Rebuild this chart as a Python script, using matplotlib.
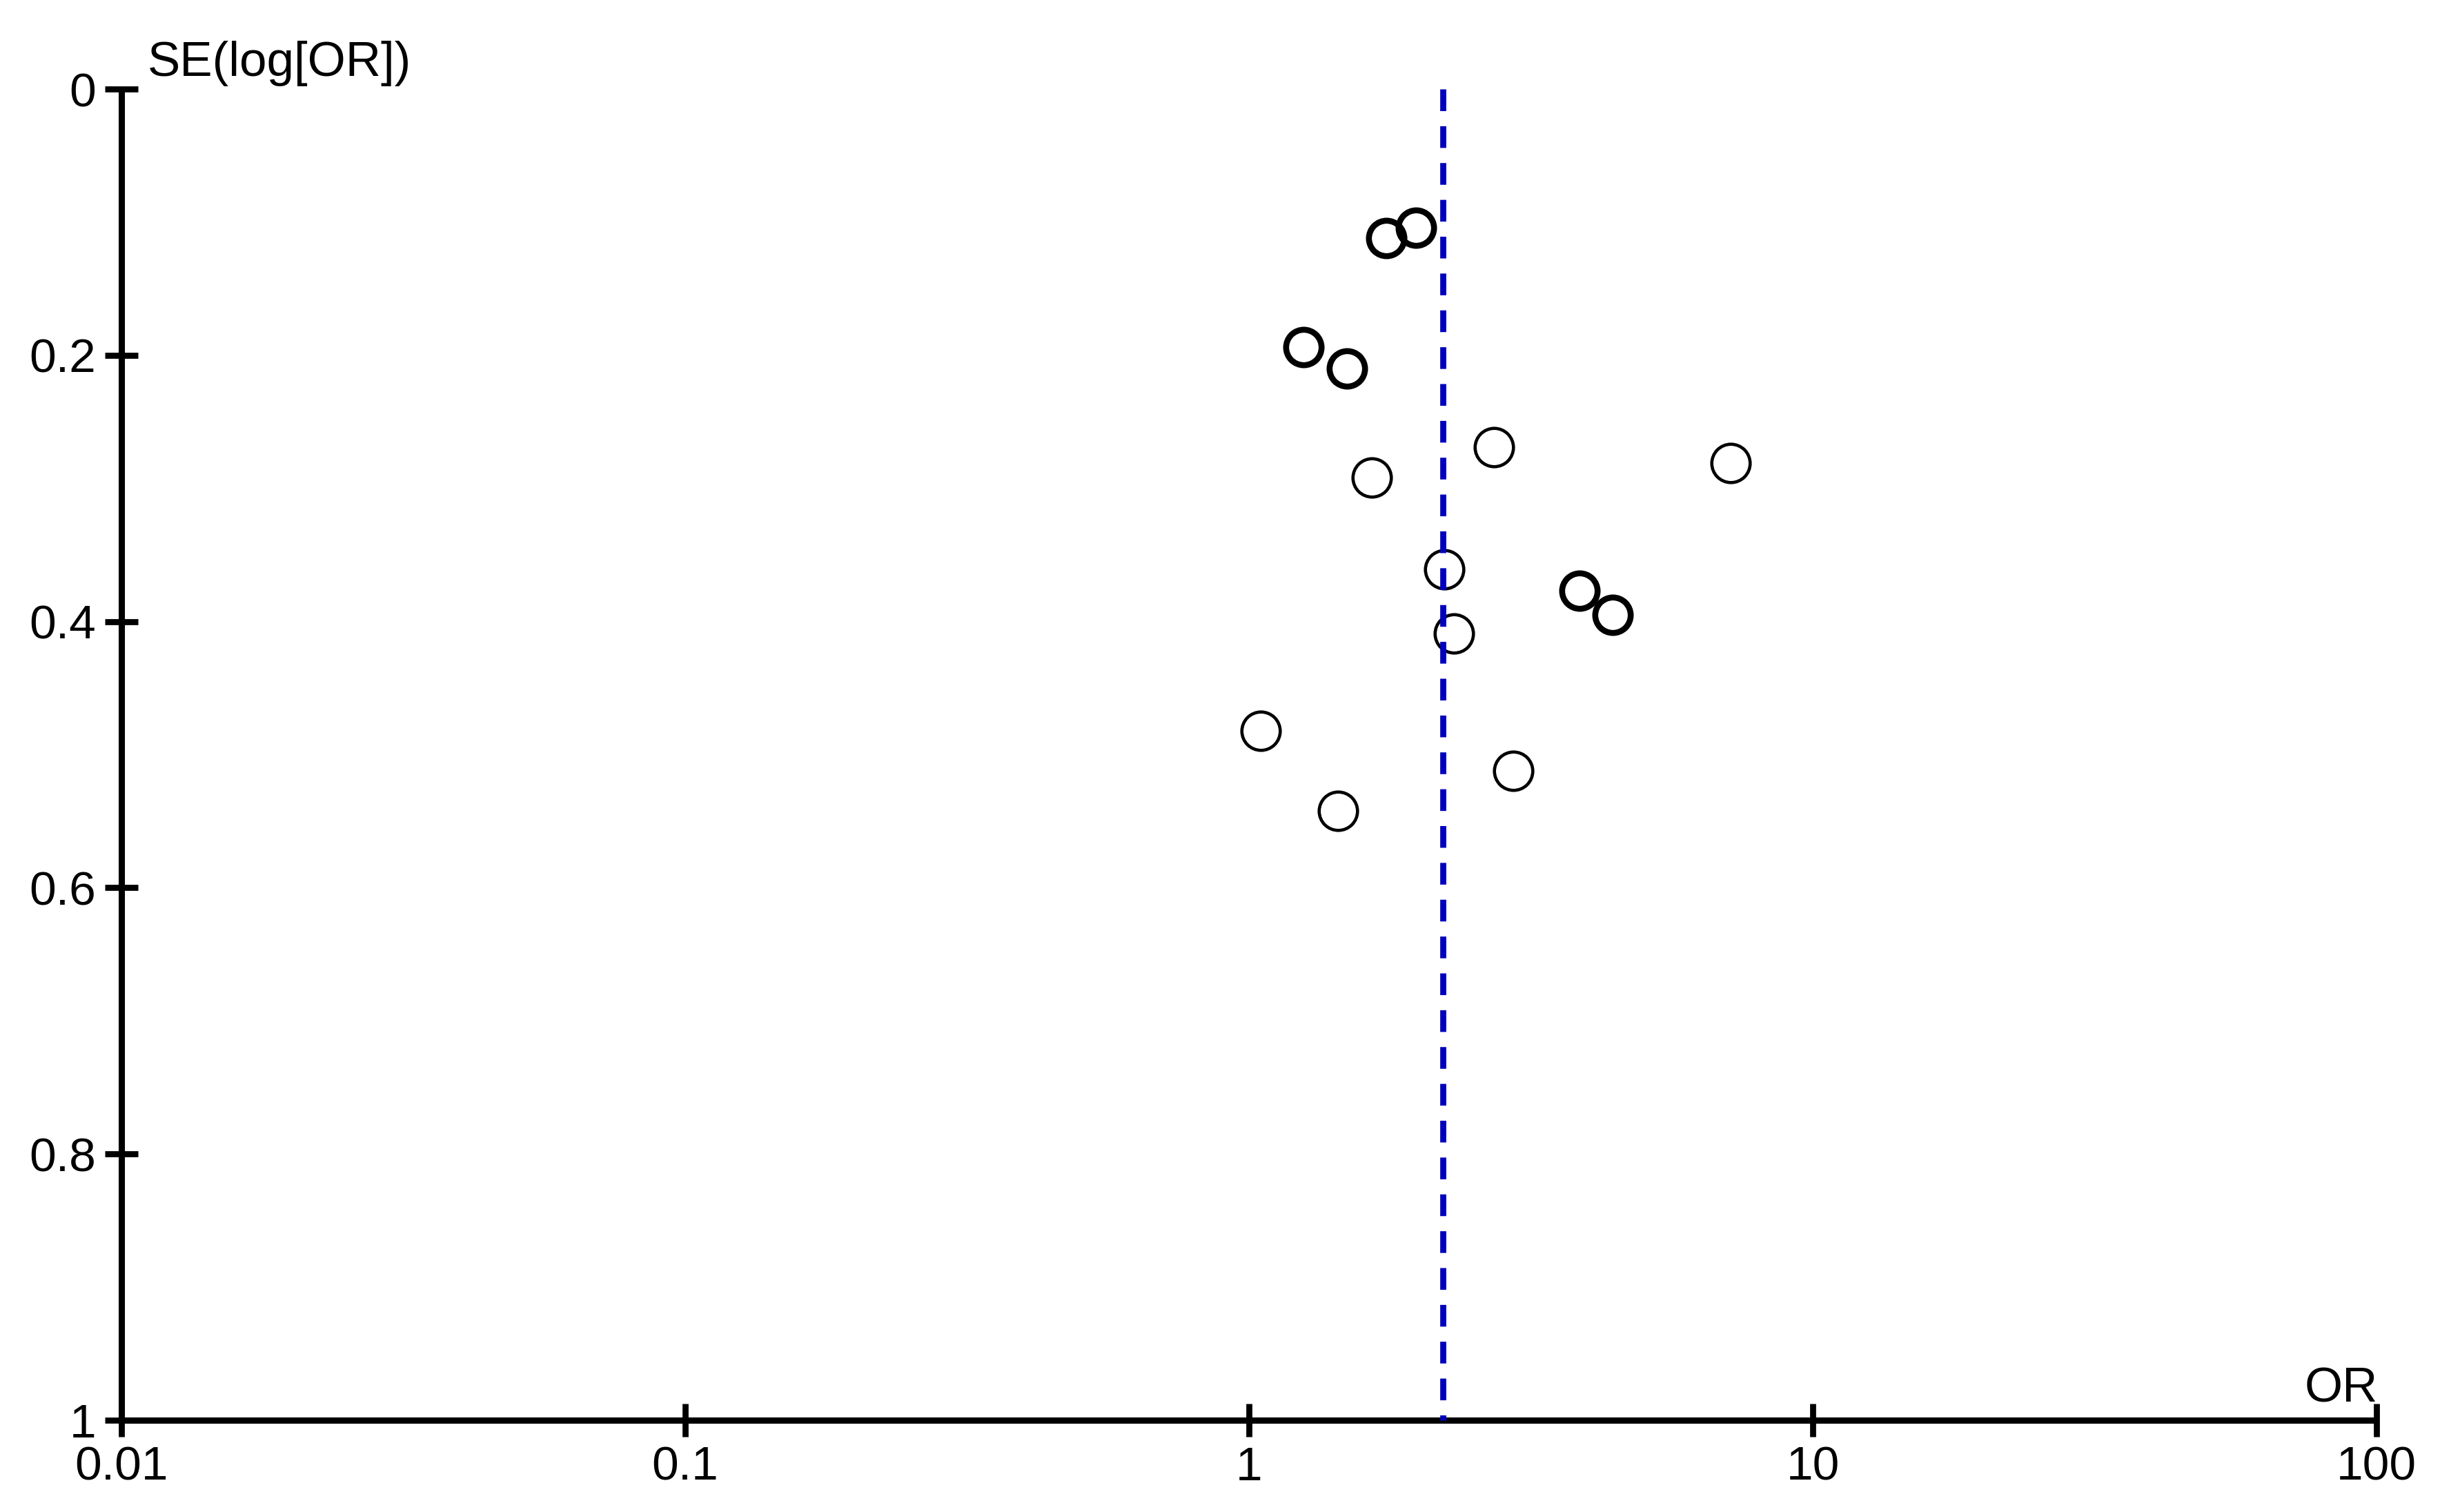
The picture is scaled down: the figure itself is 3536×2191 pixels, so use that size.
import matplotlib
matplotlib.use("Agg")
import matplotlib.pyplot as plt

# Funnel plot data
# studies drawn with a heavy outline
or_bold = [1.75, 1.98, 1.25, 1.49, 3.86, 4.41]
se_bold = [0.112, 0.104, 0.194, 0.210, 0.377, 0.395]

# studies drawn with a thin outline
or_thin = [2.72, 7.15, 1.65, 2.22, 2.31, 1.05, 2.94, 1.44]
se_thin = [0.269, 0.281, 0.292, 0.361, 0.409, 0.482, 0.512, 0.542]

# pooled estimate
pooled_or = 2.21

x_ticks = [0.01, 0.1, 1, 10, 100]
x_labels = ["0.01", "0.1", "1", "10", "100"]
y_ticks = [0, 0.2, 0.4, 0.6, 0.8, 1]
y_labels = ["0", "0.2", "0.4", "0.6", "0.8", "1"]

plt.rcParams["font.family"] = ["Liberation Sans", "DejaVu Sans"]

fig = plt.figure(figsize=(35.37, 21.91), dpi=100)
ax = fig.add_axes([0.04976, 0.06070, 0.92395, 0.88042])

# Markers
ax.plot(or_thin, se_thin, linestyle="none", marker="o", markersize=40,
        markerfacecolor="none", markeredgecolor="black", markeredgewidth=3.3,
        zorder=3, clip_on=False)
ax.plot(or_bold, se_bold, linestyle="none", marker="o", markersize=37,
        markerfacecolor="none", markeredgecolor="black", markeredgewidth=6.2,
        zorder=3, clip_on=False)

# Pooled OR line
ax.plot([pooled_or, pooled_or], [0, 1], color="#0000BF", linewidth=6.3,
        linestyle=(0, (3.6, 2.5)), dash_capstyle="butt", zorder=4,
        clip_on=False)

ax.set_xscale("log")
ax.set_xlim(0.01, 100)
ax.set_ylim(1, 0)

ax.set_xticks(x_ticks)
ax.set_xticklabels(x_labels)
ax.set_yticks(y_ticks)
ax.set_yticklabels(y_labels)
ax.minorticks_off()

ax.tick_params(axis="both", direction="inout", length=35, width=6.3,
               labelsize=50, pad=9, colors="black")

for side in ["top", "right"]:
    ax.spines[side].set_visible(False)
for side in ["left", "bottom"]:
    ax.spines[side].set_linewidth(6.5)
    ax.spines[side].set_capstyle("butt")

# Axis titles
fig.text(214 / 3537, 1 - 110 / 2191, "SE(log[OR])", ha="left",
         va="baseline", fontsize=51)
fig.text(3446 / 3537, 1 - 2032 / 2191, "OR", ha="right",
         va="baseline", fontsize=51)

plt.savefig("out.png", dpi=100)
